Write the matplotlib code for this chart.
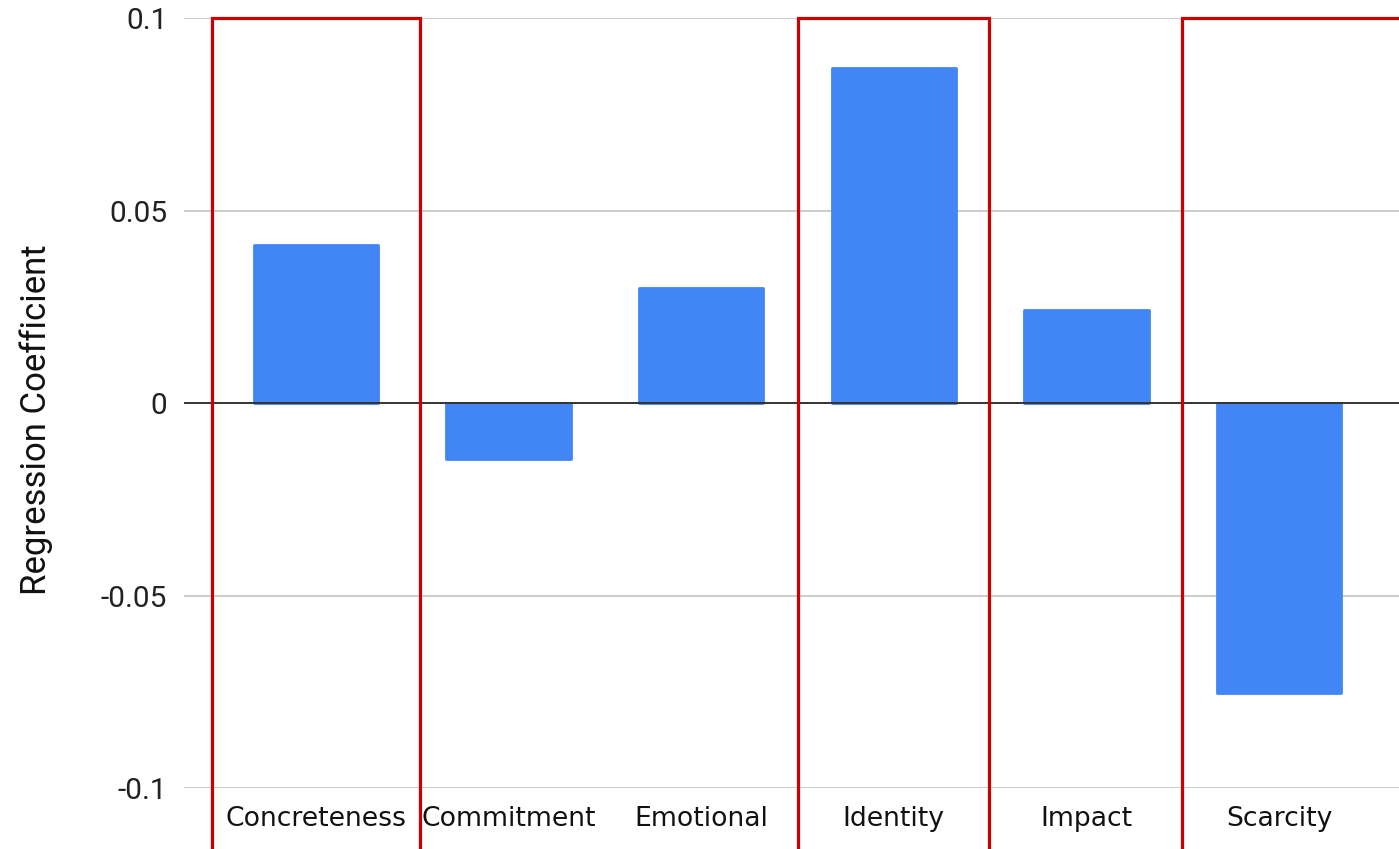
# regression coefficients bar chart with highlight boxes

import matplotlib
matplotlib.use('Agg')
import matplotlib.pyplot as plt
import matplotlib.transforms as mtransforms
from matplotlib.patches import Rectangle

categories = ['Concreteness', 'Commitment', 'Emotional', 'Identity', 'Impact', 'Scarcity']
coefficients = [0.041, -0.0145, 0.0299, 0.087, 0.0242, -0.0753]
y_ticks = [-0.1, -0.05, 0, 0.05, 0.1]
y_tick_labels = ['-0.1', '-0.05', '0', '0.05', '0.1']

# categories that get a red box round them
highlighted = ['Concreteness', 'Identity', 'Scarcity']

bar_color = '#4285F4'
box_color = '#CC0000'

fig = plt.figure(figsize=(13.99, 8.49), dpi=100)
ax = fig.add_axes([0.1315, 0.0718, 0.8685, 0.907])

x = list(range(len(categories)))
bars = ax.bar(x, coefficients, width=0.645, color=bar_color, zorder=3,
              edgecolor=bar_color, linewidth=2.0)
for b in bars:
    b.set_joinstyle('round')

# grid lines and zero line
for t in y_ticks:
    if t == 0:
        ax.axhline(t, color='#333333', linewidth=1.4, zorder=4)
    else:
        ax.axhline(t, color='#cccccc', linewidth=1.4, zorder=1)

ax.set_xlim(-0.685, 5.623)
ax.set_ylim(-0.1, 0.1)
ax.set_yticks(y_ticks)
ax.set_yticklabels(y_tick_labels, fontfamily='Roboto', fontsize=21.5, color='#222222')
ax.set_xticks(x)
ax.set_xticklabels(categories, fontfamily='DejaVu Sans', fontsize=19.2, color='#111111')
ax.tick_params(axis='both', length=0)
ax.tick_params(axis='y', pad=12)
ax.tick_params(axis='x', pad=13)
for s in ax.spines.values():
    s.set_visible(False)

ax.set_ylabel('Regression Coefficient', fontfamily='Roboto', fontsize=25, color='#111111')
ax.yaxis.set_label_coords(-0.108, 0.479)

# red boxes: x in data units, y in axes units, running off the bottom of the figure
trans = mtransforms.blended_transform_factory(ax.transData, ax.transAxes)
box_left = {'Concreteness': -0.54, 'Identity': -0.497, 'Scarcity': -0.503}
box_right = {'Concreteness': 0.54, 'Identity': 0.493, 'Scarcity': 1.0}
for name in highlighted:
    i = categories.index(name)
    left = i + box_left[name]
    right = i + box_right[name]
    rect = Rectangle((left, -0.2), right - left, 1.2, transform=trans, fill=False,
                     edgecolor=box_color, linewidth=2.3, clip_on=False, zorder=5)
    ax.add_patch(rect)

fig.savefig('out.png', dpi=100)
